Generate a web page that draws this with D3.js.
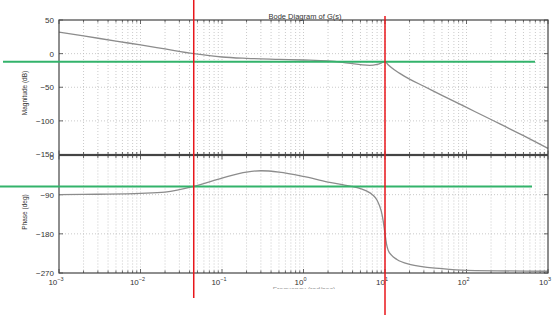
<!DOCTYPE html>
<html>
<head>
<meta charset="utf-8">
<script src="https://cdn.jsdelivr.net/npm/d3@7"></script>
<style>
  html, body { margin: 0; padding: 0; background: #fff; }
  svg { display: block; font-family: "Liberation Sans", Arial, sans-serif; }
</style>
</head>
<body>
<svg id="chart" width="560" height="316"></svg>
<script>
// magnitude response (rad/s, dB)
const magFreq = [0.001, 0.002, 0.005, 0.01, 0.02, 0.045, 0.1, 0.2, 0.5, 1, 2, 3, 5, 6.5, 8, 9, 10, 11, 13, 15, 20, 30, 50, 100, 200, 500, 1000];
const magDb   = [32, 26.5, 18.5, 13, 7, 0, -5, -7, -8.5, -9.5, -11, -13, -16.5, -17.5, -16, -14, -12, -17, -24, -29, -38, -48.5, -62, -80, -98, -122, -141];

// phase response (rad/s, deg)
const phaseFreq = [0.001, 0.003, 0.01, 0.02, 0.045, 0.1, 0.2, 0.3, 0.5, 1, 2, 3, 5, 6, 7, 8, 9, 9.5, 10, 10.5, 11, 12, 14, 20, 50, 100, 1000];
const phaseDeg  = [-90, -89, -87, -84, -71, -52, -38, -35, -38, -48, -61, -67, -76, -82, -90, -103, -128, -150, -180, -206, -219, -229, -239, -250, -260, -264, -266];

const magTicks = [50, 0, -50, -100, -150];
const phaseTicks = [0, -90, -180, -270];
const decades = [-3, -2, -1, 0, 1, 2, 3];

// annotation lines: frequencies of the red markers, levels of the green ones
const markFreq = [0.045, 10];
const markDb = -12;
const markDeg = -71;

const svg = d3.select('#chart');
const left = 59, right = 548;
const magTop = 20, magBottom = 154.5, phTop = 155.5, phBottom = 273;

let x = d3.scaleLog().domain([1e-3, 1e3]).range([left, right]);
let yMag = d3.scaleLinear().domain([-150, 50]).range([magBottom, magTop]);
let yPh = d3.scaleLinear().domain([-270, 0]).range([phBottom, phTop]);

// minor + major frequencies for grid
let gridFreq = [];
decades.slice(0, -1).forEach(e => {
  for (let k = 1; k < 10; k++) gridFreq.push(k * Math.pow(10, e));
});
gridFreq.push(1e3);

function panel(y, top, bottom, ticks) {
  let g = svg.append('g');
  // dotted grid
  g.selectAll('line.vg').data(gridFreq.filter(f => f > 1e-3 && f < 1e3)).enter().append('line')
    .attr('x1', d => x(d)).attr('x2', d => x(d))
    .attr('y1', top).attr('y2', bottom)
    .style('stroke', '#bdbdbd').style('stroke-width', 0.8).style('stroke-dasharray', '1,2');
  g.selectAll('line.hg').data(ticks.filter(t => y(t) > top + 1 && y(t) < bottom - 1)).enter().append('line')
    .attr('x1', left).attr('x2', right)
    .attr('y1', d => y(d)).attr('y2', d => y(d))
    .style('stroke', '#bdbdbd').style('stroke-width', 0.8).style('stroke-dasharray', '1,2');
  // inward ticks on top and bottom
  gridFreq.forEach(f => {
    let len = Math.abs(Math.log10(f) - Math.round(Math.log10(f))) < 1e-9 ? 4 : 2.5;
    g.append('line').attr('x1', x(f)).attr('x2', x(f)).attr('y1', top).attr('y2', top + len)
      .style('stroke', '#444').style('stroke-width', 0.8);
    g.append('line').attr('x1', x(f)).attr('x2', x(f)).attr('y1', bottom).attr('y2', bottom - len)
      .style('stroke', '#444').style('stroke-width', 0.8);
  });
  ticks.forEach(t => {
    g.append('line').attr('x1', left).attr('x2', left + 4).attr('y1', y(t)).attr('y2', y(t))
      .style('stroke', '#444').style('stroke-width', 0.8);
    g.append('line').attr('x1', right).attr('x2', right - 4).attr('y1', y(t)).attr('y2', y(t))
      .style('stroke', '#444').style('stroke-width', 0.8);
  });
  return g;
}

let magG = panel(yMag, magTop, magBottom, magTicks);
let phG = panel(yPh, phTop, phBottom, phaseTicks);

// curves
let magLine = d3.line().x(d => x(d[0])).y(d => yMag(d[1])).curve(d3.curveMonotoneX);
let phLine = d3.line().x(d => x(d[0])).y(d => yPh(d[1])).curve(d3.curveMonotoneX);

svg.append('path')
  .datum(d3.zip(magFreq, magDb))
  .attr('d', magLine)
  .style('fill', 'none').style('stroke', '#8c8c8c').style('stroke-width', 1.3);

svg.append('path')
  .datum(d3.zip(phaseFreq, phaseDeg))
  .attr('d', phLine)
  .style('fill', 'none').style('stroke', '#8c8c8c').style('stroke-width', 1.3);

// frames
[[magTop, magBottom], [phTop, phBottom]].forEach(([t, b]) => {
  svg.append('rect').attr('x', left).attr('y', t).attr('width', right - left).attr('height', b - t)
    .style('fill', 'none').style('stroke', '#444').style('stroke-width', 1.2);
});

// y tick labels (the -150 and 0 labels share the panel joint, as in the original)
svg.append('g').selectAll('text').data(magTicks).enter().append('text')
  .attr('x', left - 5).attr('y', d => yMag(d) + (d === -150 ? 2 : 3))
  .attr('text-anchor', 'end').style('font-size', '8px').style('fill', '#333')
  .text(d => d3.format('d')(d).replace('-', '\u2212'));

svg.append('g').selectAll('text').data(phaseTicks).enter().append('text')
  .attr('x', left - 5).attr('y', d => yPh(d) + (d === 0 ? 4 : 3))
  .attr('text-anchor', 'end').style('font-size', '8px').style('fill', '#333')
  .text(d => d3.format('d')(d).replace('-', '\u2212'));

// x tick labels 10^n
let xl = svg.append('g').selectAll('text').data(decades).enter().append('text')
  .attr('x', d => x(Math.pow(10, d)) - 3).attr('y', 285)
  .attr('text-anchor', 'middle').style('font-size', '8px').style('fill', '#333');
xl.append('tspan').text('10');
xl.append('tspan').attr('dy', -4).style('font-size', '5.5px')
  .text(d => String(d).replace('-', '\u2212'));

// title and axis labels
svg.append('text').attr('x', 305).attr('y', 18.5).attr('text-anchor', 'middle')
  .style('font-size', '7.5px').style('fill', '#333').text('Bode Diagram of G(s)');

svg.append('text').attr('transform', 'translate(27,93) rotate(-90)').attr('text-anchor', 'middle')
  .style('font-size', '6.5px').style('fill', '#333').text('Magnitude (dB)');

svg.append('text').attr('transform', 'translate(27,212) rotate(-90)').attr('text-anchor', 'middle')
  .style('font-size', '6.5px').style('fill', '#333').text('Phase (deg)');

svg.append('clipPath').attr('id', 'xlabClip')
  .append('rect').attr('x', 0).attr('y', 0).attr('width', 560).attr('height', 289);
svg.append('text').attr('x', 304).attr('y', 292).attr('text-anchor', 'middle')
  .attr('clip-path', 'url(#xlabClip)')
  .style('font-size', '7px').style('fill', '#999').text('Frequency (rad/sec)');

// green level markers
svg.append('line').attr('x1', 3).attr('x2', 535).attr('y1', yMag(markDb)).attr('y2', yMag(markDb))
  .style('stroke', '#33b36b').style('stroke-width', 2);
svg.append('line').attr('x1', 0).attr('x2', 532).attr('y1', yPh(markDeg)).attr('y2', yPh(markDeg))
  .style('stroke', '#33b36b').style('stroke-width', 2);

// red frequency markers
svg.append('line').attr('x1', x(markFreq[0])).attr('x2', x(markFreq[0])).attr('y1', 0).attr('y2', 298)
  .style('stroke', '#e8161b').style('stroke-width', 1.5);
svg.append('line').attr('x1', x(markFreq[1])).attr('x2', x(markFreq[1])).attr('y1', 16).attr('y2', 315)
  .style('stroke', '#e8161b').style('stroke-width', 1.5);
</script>
</body>
</html>
